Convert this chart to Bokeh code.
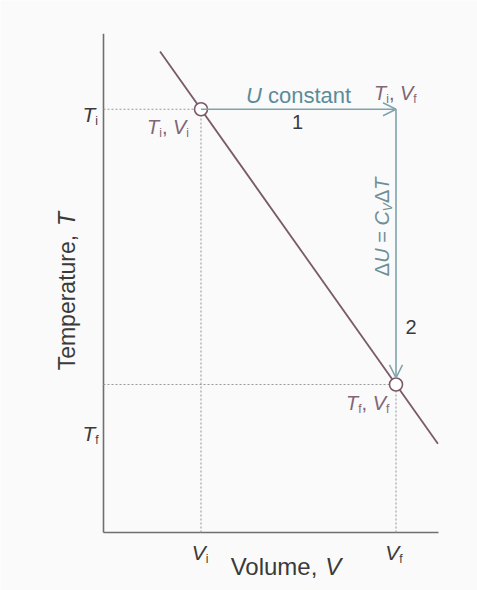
import math
from bokeh.plotting import figure
from bokeh.models import Range1d, Arrow, OpenHead
from bokeh.core.properties import value
from bokeh.embed import file_html
from bokeh.resources import INLINE

# States of the gas (arbitrary units)
V_i, V_f = 1.0, 3.0
T_i, T_f = 2.86, 1.0

# Straight reference line through the initial and final states
line_V = [0.58, 3.43]
line_T = [3.25, 0.60]

# Extent of the drawn axes
axis_V_max = 3.436
axis_T_max = 3.37

FONT = "Liberation Sans"
AX_COL = "#6f6f6f"
DOT_COL = "#9a9a9a"
LINE_COL = "#7a5a66"
PATH_COL = "#7fa3ab"
PATH_TXT = "#5b8c99"
PT_TXT = "#806677"
TXT = "#3a3a3a"

p = figure(width=477, height=590, output_backend="svg", toolbar_location=None,
           x_range=Range1d(-1.0564, 3.8359), y_range=Range1d(-0.392, 3.5946),
           x_axis_location=None, y_axis_location=None, min_border=0)
p.grid.visible = False
p.outline_line_color = None
p.background_fill_color = "#fafafa"
p.border_fill_color = "#fafafa"

# axes
p.segment(x0=[0, 0], y0=[0, 0], x1=[0, axis_V_max], y1=[axis_T_max, 0],
          line_color=AX_COL, line_width=1.6)

# dotted guides to the axes
p.segment(x0=[0, V_i, 0, V_f], y0=[T_i, 0, T_f, 0],
          x1=[V_i, V_i, V_f, V_f], y1=[T_i, T_i, T_f, T_f],
          line_color=DOT_COL, line_width=1.1, line_dash="2 2")

p.line(line_V, line_T, line_color=LINE_COL, line_width=1.8)

# path 1: isothermal step, path 2: cooling at constant volume
p.add_layout(Arrow(end=OpenHead(size=13, line_color=PATH_COL, line_width=1.5),
                   x_start=V_i, y_start=T_i, x_end=V_f, y_end=T_i,
                   line_color=PATH_COL, line_width=1.6))
p.add_layout(Arrow(end=OpenHead(size=13, line_color=PATH_COL, line_width=1.5),
                   x_start=V_f, y_start=T_i, x_end=V_f, y_end=T_f + 0.045,
                   line_color=PATH_COL, line_width=1.6))

p.scatter([V_i, V_f], [T_i, T_f], size=13, fill_color="white",
          line_color=LINE_COL, line_width=1.6)

# character widths (em) for laying out mixed-style labels
W = {'T': .611, 'V': .667, 'i': .222, 'f': .278, ',': .278, ' ': .278, 'U': .722,
     'Δ': .668, 'C': .722, '=': .584, 'c': .5, 'o': .556, 'n': .556, 's': .5,
     't': .278, 'a': .556, '1': .556, '2': .556, 'l': .222, 'u': .556, 'm': .833,
     'e': .556, 'p': .556, 'r': .333}


def text_width(s, size):
    return sum(W.get(c, .556) for c in s) * size


def rich(x, y, parts, dx=0, dy=0, size=21, color=TXT, align="left", angle=0.0):
    """parts: list of (text, italic, subscript)."""
    sub_size = round(size * 0.58)
    widths = [text_width(t, sub_size if sub else size) for t, _, sub in parts]
    total = sum(widths)
    start = {"left": 0, "center": -total / 2, "right": -total}[align]
    along = start
    for (t, ital, sub), w in zip(parts, widths):
        fs = sub_size if sub else size
        lead = (len(t) - len(t.lstrip(" "))) * W[" "] * fs
        s = t.strip(" ")
        shift = size * 0.3 if sub else 0
        pos = along + lead
        if angle == 0:
            xo, yo = dx + pos, dy + shift
        else:
            xo, yo = dx + shift, dy - pos
        if s:
            p.text(x=[x], y=[y], text=[s], x_offset=xo, y_offset=yo, angle=angle,
                   text_font=value(FONT), text_font_size=f"{fs}px",
                   text_font_style="italic" if ital else "normal",
                   text_color=color, text_align="left", text_baseline="middle")
        along += w


# tick labels on the axes
rich(0, T_i, [("T", True, False), ("i", False, True)], dx=-21, dy=5, size=21)
rich(0, T_f, [("T", True, False), ("f", False, True)], dx=-21, dy=49, size=21)
rich(V_i, 0, [("V", True, False), ("i", False, True)], dx=-1, dy=20, size=21, align="center")
rich(V_f, 0, [("V", True, False), ("f", False, True)], dx=-2, dy=20, size=21, align="center")

# axis titles
rich(axis_V_max / 2, 0, [("Volume, ", False, False), ("V", True, False)],
     dx=15, dy=34, size=24, align="center")
rich(0, axis_T_max / 2, [("Temperature, ", False, False), ("T", True, False)],
     dx=-36, dy=8, size=23, align="center", angle=math.pi / 2)

# state labels
rich(V_i, T_i, [("T", True, False), ("i", False, True), (", ", False, False),
                ("V", True, False), ("i", False, True)],
     dx=-12, dy=18, size=20, color=PT_TXT, align="right")
rich(V_f, T_i, [("T", True, False), ("i", False, True), (", ", False, False),
                ("V", True, False), ("f", False, True)],
     dx=-22, dy=-16, size=20, color=PT_TXT)
rich(V_f, T_f, [("T", True, False), ("f", False, True), (", ", False, False),
                ("V", True, False), ("f", False, True)],
     dx=-50, dy=19, size=20, color=PT_TXT)

# path annotations
mid_V = (V_i + V_f) / 2
mid_T = (T_i + T_f) / 2
rich(mid_V, T_i, [("U", True, False), (" constant", False, False)],
     dx=0, dy=-14, size=22, color=PATH_TXT, align="center")
rich(mid_V, T_i, [("1", False, False)], dx=-1, dy=13, size=20, color=TXT, align="center")
rich(V_f, mid_T, [("Δ", False, False), ("U", True, False), (" = ", False, False),
                  ("C", True, False), ("V", True, True), ("Δ", False, False),
                  ("T", True, False)],
     dx=-14, dy=-20, size=20, color="#6e8e96", align="center", angle=math.pi / 2)
rich(V_f, mid_T, [("2", False, False)], dx=15, dy=80, size=20, color=TXT, align="center")

open("out.html", "w").write(file_html(p, INLINE))
